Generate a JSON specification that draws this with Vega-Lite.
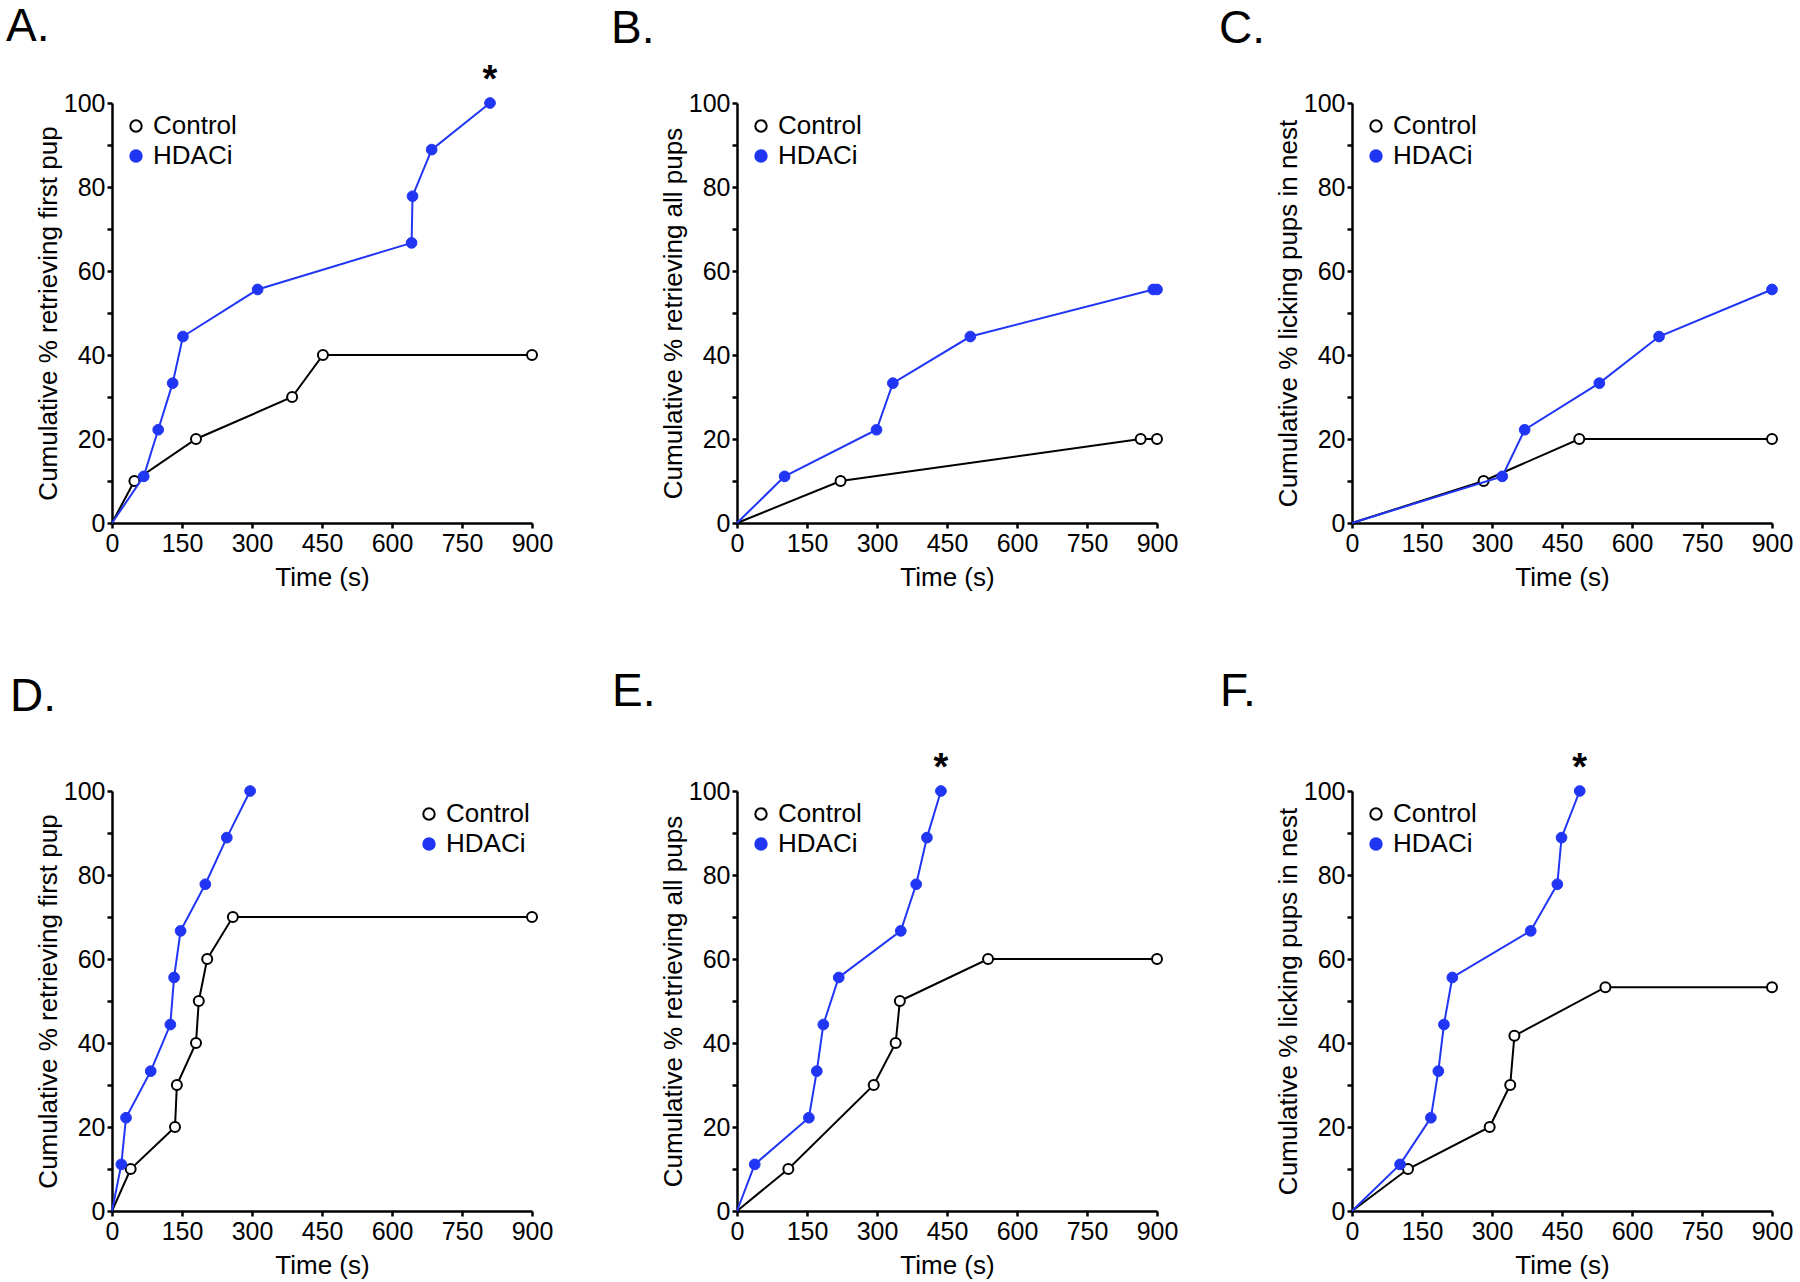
{
  "$schema": "https://vega.github.io/schema/vega-lite/v6.json",
  "background": "white",
  "padding": {"left": 6, "top": 4, "right": 5, "bottom": 5},
  "datasets": {
    "curves": [
      {"panel":"A","group":"Control","time":0,"pct":0},
      {"panel":"A","group":"Control","time":48,"pct":10},
      {"panel":"A","group":"Control","time":180,"pct":20},
      {"panel":"A","group":"Control","time":386,"pct":30},
      {"panel":"A","group":"Control","time":452,"pct":40},
      {"panel":"A","group":"Control","time":900,"pct":40},
      {"panel":"A","group":"HDACi","time":0,"pct":0},
      {"panel":"A","group":"HDACi","time":68,"pct":11.1},
      {"panel":"A","group":"HDACi","time":99,"pct":22.2},
      {"panel":"A","group":"HDACi","time":130,"pct":33.3},
      {"panel":"A","group":"HDACi","time":152,"pct":44.4},
      {"panel":"A","group":"HDACi","time":312,"pct":55.6},
      {"panel":"A","group":"HDACi","time":642,"pct":66.7},
      {"panel":"A","group":"HDACi","time":644,"pct":77.8},
      {"panel":"A","group":"HDACi","time":685,"pct":88.9},
      {"panel":"A","group":"HDACi","time":810,"pct":100},
      {"panel":"B","group":"Control","time":0,"pct":0},
      {"panel":"B","group":"Control","time":222,"pct":10},
      {"panel":"B","group":"Control","time":865,"pct":20},
      {"panel":"B","group":"Control","time":900,"pct":20},
      {"panel":"B","group":"HDACi","time":0,"pct":0},
      {"panel":"B","group":"HDACi","time":102,"pct":11.1},
      {"panel":"B","group":"HDACi","time":299,"pct":22.2},
      {"panel":"B","group":"HDACi","time":334,"pct":33.3},
      {"panel":"B","group":"HDACi","time":500,"pct":44.4},
      {"panel":"B","group":"HDACi","time":892,"pct":55.6},
      {"panel":"B","group":"HDACi","time":900,"pct":55.6},
      {"panel":"C","group":"Control","time":0,"pct":0},
      {"panel":"C","group":"Control","time":282,"pct":10},
      {"panel":"C","group":"Control","time":487,"pct":20},
      {"panel":"C","group":"Control","time":900,"pct":20},
      {"panel":"C","group":"HDACi","time":0,"pct":0},
      {"panel":"C","group":"HDACi","time":322,"pct":11.1},
      {"panel":"C","group":"HDACi","time":370,"pct":22.2},
      {"panel":"C","group":"HDACi","time":530,"pct":33.3},
      {"panel":"C","group":"HDACi","time":658,"pct":44.4},
      {"panel":"C","group":"HDACi","time":900,"pct":55.6},
      {"panel":"D","group":"Control","time":0,"pct":0},
      {"panel":"D","group":"Control","time":40,"pct":10},
      {"panel":"D","group":"Control","time":135,"pct":20},
      {"panel":"D","group":"Control","time":139,"pct":30},
      {"panel":"D","group":"Control","time":180,"pct":40},
      {"panel":"D","group":"Control","time":186,"pct":50},
      {"panel":"D","group":"Control","time":204,"pct":60},
      {"panel":"D","group":"Control","time":259,"pct":70},
      {"panel":"D","group":"Control","time":900,"pct":70},
      {"panel":"D","group":"HDACi","time":0,"pct":0},
      {"panel":"D","group":"HDACi","time":20,"pct":11.1},
      {"panel":"D","group":"HDACi","time":30,"pct":22.2},
      {"panel":"D","group":"HDACi","time":83,"pct":33.3},
      {"panel":"D","group":"HDACi","time":125,"pct":44.4},
      {"panel":"D","group":"HDACi","time":133,"pct":55.6},
      {"panel":"D","group":"HDACi","time":147,"pct":66.7},
      {"panel":"D","group":"HDACi","time":200,"pct":77.8},
      {"panel":"D","group":"HDACi","time":246,"pct":88.9},
      {"panel":"D","group":"HDACi","time":296,"pct":100},
      {"panel":"E","group":"Control","time":0,"pct":0},
      {"panel":"E","group":"Control","time":110,"pct":10},
      {"panel":"E","group":"Control","time":293,"pct":30},
      {"panel":"E","group":"Control","time":340,"pct":40},
      {"panel":"E","group":"Control","time":349,"pct":50},
      {"panel":"E","group":"Control","time":538,"pct":60},
      {"panel":"E","group":"Control","time":900,"pct":60},
      {"panel":"E","group":"HDACi","time":0,"pct":0},
      {"panel":"E","group":"HDACi","time":38,"pct":11.1},
      {"panel":"E","group":"HDACi","time":154,"pct":22.2},
      {"panel":"E","group":"HDACi","time":171,"pct":33.3},
      {"panel":"E","group":"HDACi","time":185,"pct":44.4},
      {"panel":"E","group":"HDACi","time":218,"pct":55.6},
      {"panel":"E","group":"HDACi","time":351,"pct":66.7},
      {"panel":"E","group":"HDACi","time":384,"pct":77.8},
      {"panel":"E","group":"HDACi","time":407,"pct":88.9},
      {"panel":"E","group":"HDACi","time":437,"pct":100},
      {"panel":"F","group":"Control","time":0,"pct":0},
      {"panel":"F","group":"Control","time":120,"pct":10},
      {"panel":"F","group":"Control","time":295,"pct":20},
      {"panel":"F","group":"Control","time":339,"pct":30},
      {"panel":"F","group":"Control","time":348,"pct":41.7},
      {"panel":"F","group":"Control","time":543,"pct":53.3},
      {"panel":"F","group":"Control","time":900,"pct":53.3},
      {"panel":"F","group":"HDACi","time":0,"pct":0},
      {"panel":"F","group":"HDACi","time":103,"pct":11.1},
      {"panel":"F","group":"HDACi","time":169,"pct":22.2},
      {"panel":"F","group":"HDACi","time":185,"pct":33.3},
      {"panel":"F","group":"HDACi","time":197,"pct":44.4},
      {"panel":"F","group":"HDACi","time":215,"pct":55.6},
      {"panel":"F","group":"HDACi","time":383,"pct":66.7},
      {"panel":"F","group":"HDACi","time":440,"pct":77.8},
      {"panel":"F","group":"HDACi","time":449,"pct":88.9},
      {"panel":"F","group":"HDACi","time":488,"pct":100}
    ],
    "stars": [
      {"panel":"A","time":810,"pct":100,"label":"*"},
      {"panel":"E","time":437,"pct":100,"label":"*"},
      {"panel":"F","time":488,"pct":100,"label":"*"}
    ]
  },
  "spacing": 688,
  "bounds": "flush",
  "resolve": {"legend": {"fill": "independent", "stroke": "independent"}},
  "vconcat": [
    {
      "spacing": 205,
      "bounds": "flush",
      "resolve": {"legend": {"fill": "independent", "stroke": "independent"}},
      "hconcat": [
        {
          "width": 420, "height": 420,
          "title": {"text": "A.", "dx": -106, "dy": -7},
          "encoding": {
            "x": {"field": "time", "type": "quantitative", "scale": {"domain": [0, 900], "nice": false}, "axis": {"title": "Time (s)", "values": [0,150,300,450,600,750,900]}},
            "y": {"field": "pct", "type": "quantitative", "scale": {"domain": [0, 100], "nice": false}, "axis": {"title": "Cumulative % retrieving first pup", "values": [0,10,20,30,40,50,60,70,80,90,100], "labelExpr": "datum.value % 20 === 0 ? datum.label : ''"}}
          },
          "layer": [
            {"data": {"name": "curves"}, "transform": [{"filter": "datum.panel === 'A' && datum.group === 'Control'"}], "mark": {"type": "line", "color": "black", "strokeWidth": 2}},
            {"data": {"name": "curves"}, "transform": [{"filter": "datum.panel === 'A' && datum.group === 'Control' && datum.time > 0"}], "mark": {"type": "point", "shape": "circle", "size": 100, "strokeWidth": 2, "opacity": 1, "filled": true},
             "encoding": {"fill": {"field": "group", "type": "nominal", "scale": {"domain": ["Control","HDACi"], "range": ["white","#2136f4"]}, "legend": {"orient": "none", "legendX": 11, "legendY": 10, "title": null}},
                          "stroke": {"field": "group", "type": "nominal", "scale": {"domain": ["Control","HDACi"], "range": ["black","#2136f4"]}, "legend": {"orient": "none", "legendX": 11, "legendY": 10, "title": null}}}},
            {"data": {"name": "curves"}, "transform": [{"filter": "datum.panel === 'A' && datum.group === 'HDACi'"}], "mark": {"type": "line", "color": "#2136f4", "strokeWidth": 2}},
            {"data": {"name": "curves"}, "transform": [{"filter": "datum.panel === 'A' && datum.group === 'HDACi' && datum.time > 0"}], "mark": {"type": "point", "shape": "circle", "size": 115, "strokeWidth": 1, "opacity": 1, "filled": true},
             "encoding": {"fill": {"field": "group", "type": "nominal", "scale": {"domain": ["Control","HDACi"], "range": ["white","#2136f4"]}, "legend": {"orient": "none", "legendX": 11, "legendY": 10, "title": null}},
                          "stroke": {"field": "group", "type": "nominal", "scale": {"domain": ["Control","HDACi"], "range": ["black","#2136f4"]}, "legend": {"orient": "none", "legendX": 11, "legendY": 10, "title": null}}}},
            {"data": {"name": "stars"}, "transform": [{"filter": "datum.panel === 'A'"}], "mark": {"type": "text", "font": "Liberation Sans", "fontSize": 38, "fontWeight": "bold", "baseline": "alphabetic", "dy": -11, "color": "black"}, "encoding": {"text": {"field": "label"}}}
          ]
        },
        {
          "spacing": 195,
          "bounds": "flush",
          "resolve": {"legend": {"fill": "independent", "stroke": "independent"}},
          "hconcat": [
            {
              "width": 420, "height": 420,
              "title": {"text": "B.", "dx": -126, "dy": -34},
              "encoding": {
                "x": {"field": "time", "type": "quantitative", "scale": {"domain": [0, 900], "nice": false}, "axis": {"title": "Time (s)", "values": [0,150,300,450,600,750,900]}},
                "y": {"field": "pct", "type": "quantitative", "scale": {"domain": [0, 100], "nice": false}, "axis": {"title": "Cumulative % retrieving all pups", "values": [0,10,20,30,40,50,60,70,80,90,100], "labelExpr": "datum.value % 20 === 0 ? datum.label : ''"}}
              },
              "layer": [
                {"data": {"name": "curves"}, "transform": [{"filter": "datum.panel === 'B' && datum.group === 'Control'"}], "mark": {"type": "line", "color": "black", "strokeWidth": 2}},
                {"data": {"name": "curves"}, "transform": [{"filter": "datum.panel === 'B' && datum.group === 'Control' && datum.time > 0"}], "mark": {"type": "point", "shape": "circle", "size": 100, "strokeWidth": 2, "opacity": 1, "filled": true},
                 "encoding": {"fill": {"field": "group", "type": "nominal", "scale": {"domain": ["Control","HDACi"], "range": ["white","#2136f4"]}, "legend": {"orient": "none", "legendX": 11, "legendY": 10, "title": null}},
                              "stroke": {"field": "group", "type": "nominal", "scale": {"domain": ["Control","HDACi"], "range": ["black","#2136f4"]}, "legend": {"orient": "none", "legendX": 11, "legendY": 10, "title": null}}}},
                {"data": {"name": "curves"}, "transform": [{"filter": "datum.panel === 'B' && datum.group === 'HDACi'"}], "mark": {"type": "line", "color": "#2136f4", "strokeWidth": 2}},
                {"data": {"name": "curves"}, "transform": [{"filter": "datum.panel === 'B' && datum.group === 'HDACi' && datum.time > 0"}], "mark": {"type": "point", "shape": "circle", "size": 115, "strokeWidth": 1, "opacity": 1, "filled": true},
                 "encoding": {"fill": {"field": "group", "type": "nominal", "scale": {"domain": ["Control","HDACi"], "range": ["white","#2136f4"]}, "legend": {"orient": "none", "legendX": 11, "legendY": 10, "title": null}},
                              "stroke": {"field": "group", "type": "nominal", "scale": {"domain": ["Control","HDACi"], "range": ["black","#2136f4"]}, "legend": {"orient": "none", "legendX": 11, "legendY": 10, "title": null}}}}
              ]
            },
            {
              "width": 420, "height": 420,
              "title": {"text": "C.", "dx": -133, "dy": -34},
              "encoding": {
                "x": {"field": "time", "type": "quantitative", "scale": {"domain": [0, 900], "nice": false}, "axis": {"title": "Time (s)", "values": [0,150,300,450,600,750,900]}},
                "y": {"field": "pct", "type": "quantitative", "scale": {"domain": [0, 100], "nice": false}, "axis": {"title": "Cumulative % licking pups in nest", "values": [0,10,20,30,40,50,60,70,80,90,100], "labelExpr": "datum.value % 20 === 0 ? datum.label : ''"}}
              },
              "layer": [
                {"data": {"name": "curves"}, "transform": [{"filter": "datum.panel === 'C' && datum.group === 'Control'"}], "mark": {"type": "line", "color": "black", "strokeWidth": 2}},
                {"data": {"name": "curves"}, "transform": [{"filter": "datum.panel === 'C' && datum.group === 'Control' && datum.time > 0"}], "mark": {"type": "point", "shape": "circle", "size": 100, "strokeWidth": 2, "opacity": 1, "filled": true},
                 "encoding": {"fill": {"field": "group", "type": "nominal", "scale": {"domain": ["Control","HDACi"], "range": ["white","#2136f4"]}, "legend": {"orient": "none", "legendX": 11, "legendY": 10, "title": null}},
                              "stroke": {"field": "group", "type": "nominal", "scale": {"domain": ["Control","HDACi"], "range": ["black","#2136f4"]}, "legend": {"orient": "none", "legendX": 11, "legendY": 10, "title": null}}}},
                {"data": {"name": "curves"}, "transform": [{"filter": "datum.panel === 'C' && datum.group === 'HDACi'"}], "mark": {"type": "line", "color": "#2136f4", "strokeWidth": 2}},
                {"data": {"name": "curves"}, "transform": [{"filter": "datum.panel === 'C' && datum.group === 'HDACi' && datum.time > 0"}], "mark": {"type": "point", "shape": "circle", "size": 115, "strokeWidth": 1, "opacity": 1, "filled": true},
                 "encoding": {"fill": {"field": "group", "type": "nominal", "scale": {"domain": ["Control","HDACi"], "range": ["white","#2136f4"]}, "legend": {"orient": "none", "legendX": 11, "legendY": 10, "title": null}},
                              "stroke": {"field": "group", "type": "nominal", "scale": {"domain": ["Control","HDACi"], "range": ["black","#2136f4"]}, "legend": {"orient": "none", "legendX": 11, "legendY": 10, "title": null}}}}
              ]
            }
          ]
        }
      ]
    },
    {
      "spacing": 205,
      "bounds": "flush",
      "resolve": {"legend": {"fill": "independent", "stroke": "independent"}},
      "hconcat": [
        {
          "width": 420, "height": 420,
          "title": {"text": "D.", "dx": -102, "dy": -54},
          "encoding": {
            "x": {"field": "time", "type": "quantitative", "scale": {"domain": [0, 900], "nice": false}, "axis": {"title": "Time (s)", "values": [0,150,300,450,600,750,900]}},
            "y": {"field": "pct", "type": "quantitative", "scale": {"domain": [0, 100], "nice": false}, "axis": {"title": "Cumulative % retrieving first pup", "values": [0,10,20,30,40,50,60,70,80,90,100], "labelExpr": "datum.value % 20 === 0 ? datum.label : ''"}}
          },
          "layer": [
            {"data": {"name": "curves"}, "transform": [{"filter": "datum.panel === 'D' && datum.group === 'Control'"}], "mark": {"type": "line", "color": "black", "strokeWidth": 2}},
            {"data": {"name": "curves"}, "transform": [{"filter": "datum.panel === 'D' && datum.group === 'Control' && datum.time > 0"}], "mark": {"type": "point", "shape": "circle", "size": 100, "strokeWidth": 2, "opacity": 1, "filled": true},
             "encoding": {"fill": {"field": "group", "type": "nominal", "scale": {"domain": ["Control","HDACi"], "range": ["white","#2136f4"]}, "legend": {"orient": "none", "legendX": 304, "legendY": 10, "title": null}},
                          "stroke": {"field": "group", "type": "nominal", "scale": {"domain": ["Control","HDACi"], "range": ["black","#2136f4"]}, "legend": {"orient": "none", "legendX": 304, "legendY": 10, "title": null}}}},
            {"data": {"name": "curves"}, "transform": [{"filter": "datum.panel === 'D' && datum.group === 'HDACi'"}], "mark": {"type": "line", "color": "#2136f4", "strokeWidth": 2}},
            {"data": {"name": "curves"}, "transform": [{"filter": "datum.panel === 'D' && datum.group === 'HDACi' && datum.time > 0"}], "mark": {"type": "point", "shape": "circle", "size": 115, "strokeWidth": 1, "opacity": 1, "filled": true},
             "encoding": {"fill": {"field": "group", "type": "nominal", "scale": {"domain": ["Control","HDACi"], "range": ["white","#2136f4"]}, "legend": {"orient": "none", "legendX": 304, "legendY": 10, "title": null}},
                          "stroke": {"field": "group", "type": "nominal", "scale": {"domain": ["Control","HDACi"], "range": ["black","#2136f4"]}, "legend": {"orient": "none", "legendX": 304, "legendY": 10, "title": null}}}}
          ]
        },
        {
          "spacing": 195,
          "bounds": "flush",
          "resolve": {"legend": {"fill": "independent", "stroke": "independent"}},
          "hconcat": [
            {
              "width": 420, "height": 420,
              "title": {"text": "E.", "dx": -125, "dy": -30},
              "encoding": {
                "x": {"field": "time", "type": "quantitative", "scale": {"domain": [0, 900], "nice": false}, "axis": {"title": "Time (s)", "values": [0,150,300,450,600,750,900]}},
                "y": {"field": "pct", "type": "quantitative", "scale": {"domain": [0, 100], "nice": false}, "axis": {"title": "Cumulative % retrieving all pups", "values": [0,10,20,30,40,50,60,70,80,90,100], "labelExpr": "datum.value % 20 === 0 ? datum.label : ''"}}
              },
              "layer": [
                {"data": {"name": "curves"}, "transform": [{"filter": "datum.panel === 'E' && datum.group === 'Control'"}], "mark": {"type": "line", "color": "black", "strokeWidth": 2}},
                {"data": {"name": "curves"}, "transform": [{"filter": "datum.panel === 'E' && datum.group === 'Control' && datum.time > 0"}], "mark": {"type": "point", "shape": "circle", "size": 100, "strokeWidth": 2, "opacity": 1, "filled": true},
                 "encoding": {"fill": {"field": "group", "type": "nominal", "scale": {"domain": ["Control","HDACi"], "range": ["white","#2136f4"]}, "legend": {"orient": "none", "legendX": 11, "legendY": 10, "title": null}},
                              "stroke": {"field": "group", "type": "nominal", "scale": {"domain": ["Control","HDACi"], "range": ["black","#2136f4"]}, "legend": {"orient": "none", "legendX": 11, "legendY": 10, "title": null}}}},
                {"data": {"name": "curves"}, "transform": [{"filter": "datum.panel === 'E' && datum.group === 'HDACi'"}], "mark": {"type": "line", "color": "#2136f4", "strokeWidth": 2}},
                {"data": {"name": "curves"}, "transform": [{"filter": "datum.panel === 'E' && datum.group === 'HDACi' && datum.time > 0"}], "mark": {"type": "point", "shape": "circle", "size": 115, "strokeWidth": 1, "opacity": 1, "filled": true},
                 "encoding": {"fill": {"field": "group", "type": "nominal", "scale": {"domain": ["Control","HDACi"], "range": ["white","#2136f4"]}, "legend": {"orient": "none", "legendX": 11, "legendY": 10, "title": null}},
                              "stroke": {"field": "group", "type": "nominal", "scale": {"domain": ["Control","HDACi"], "range": ["black","#2136f4"]}, "legend": {"orient": "none", "legendX": 11, "legendY": 10, "title": null}}}},
                {"data": {"name": "stars"}, "transform": [{"filter": "datum.panel === 'E'"}], "mark": {"type": "text", "font": "Liberation Sans", "fontSize": 38, "fontWeight": "bold", "baseline": "alphabetic", "dy": -11, "color": "black"}, "encoding": {"text": {"field": "label"}}}
              ]
            },
            {
              "width": 420, "height": 420,
              "title": {"text": "F.", "dx": -132, "dy": -30},
              "encoding": {
                "x": {"field": "time", "type": "quantitative", "scale": {"domain": [0, 900], "nice": false}, "axis": {"title": "Time (s)", "values": [0,150,300,450,600,750,900]}},
                "y": {"field": "pct", "type": "quantitative", "scale": {"domain": [0, 100], "nice": false}, "axis": {"title": "Cumulative % licking pups in nest", "values": [0,10,20,30,40,50,60,70,80,90,100], "labelExpr": "datum.value % 20 === 0 ? datum.label : ''"}}
              },
              "layer": [
                {"data": {"name": "curves"}, "transform": [{"filter": "datum.panel === 'F' && datum.group === 'Control'"}], "mark": {"type": "line", "color": "black", "strokeWidth": 2}},
                {"data": {"name": "curves"}, "transform": [{"filter": "datum.panel === 'F' && datum.group === 'Control' && datum.time > 0"}], "mark": {"type": "point", "shape": "circle", "size": 100, "strokeWidth": 2, "opacity": 1, "filled": true},
                 "encoding": {"fill": {"field": "group", "type": "nominal", "scale": {"domain": ["Control","HDACi"], "range": ["white","#2136f4"]}, "legend": {"orient": "none", "legendX": 11, "legendY": 10, "title": null}},
                              "stroke": {"field": "group", "type": "nominal", "scale": {"domain": ["Control","HDACi"], "range": ["black","#2136f4"]}, "legend": {"orient": "none", "legendX": 11, "legendY": 10, "title": null}}}},
                {"data": {"name": "curves"}, "transform": [{"filter": "datum.panel === 'F' && datum.group === 'HDACi'"}], "mark": {"type": "line", "color": "#2136f4", "strokeWidth": 2}},
                {"data": {"name": "curves"}, "transform": [{"filter": "datum.panel === 'F' && datum.group === 'HDACi' && datum.time > 0"}], "mark": {"type": "point", "shape": "circle", "size": 115, "strokeWidth": 1, "opacity": 1, "filled": true},
                 "encoding": {"fill": {"field": "group", "type": "nominal", "scale": {"domain": ["Control","HDACi"], "range": ["white","#2136f4"]}, "legend": {"orient": "none", "legendX": 11, "legendY": 10, "title": null}},
                              "stroke": {"field": "group", "type": "nominal", "scale": {"domain": ["Control","HDACi"], "range": ["black","#2136f4"]}, "legend": {"orient": "none", "legendX": 11, "legendY": 10, "title": null}}}},
                {"data": {"name": "stars"}, "transform": [{"filter": "datum.panel === 'F'"}], "mark": {"type": "text", "font": "Liberation Sans", "fontSize": 38, "fontWeight": "bold", "baseline": "alphabetic", "dy": -11, "color": "black"}, "encoding": {"text": {"field": "label"}}}
              ]
            }
          ]
        }
      ]
    }
  ],
  "config": {
    "font": "Liberation Sans",
    "view": {"stroke": null},
    "title": {"font": "Liberation Sans", "fontSize": 46, "fontWeight": "normal", "anchor": "start", "frame": "group", "baseline": "alphabetic", "offset": 0, "color": "black"},
    "axis": {"grid": false, "domainColor": "black", "domainWidth": 2.5, "tickColor": "black", "tickWidth": 2.5, "tickSize": 5, "labelFont": "Liberation Sans", "labelFontSize": 25, "labelColor": "black", "labelFlush": false, "labelOverlap": false, "titleFont": "Liberation Sans", "titleFontSize": 26, "titleFontWeight": "normal", "titleColor": "black"},
    "axisX": {"labelPadding": 3, "titlePadding": 8},
    "axisY": {"labelPadding": 2, "titlePadding": 2},
    "legend": {"symbolType": "circle", "symbolSize": 130, "symbolStrokeWidth": 2, "labelFont": "Liberation Sans", "labelFontSize": 26, "labelColor": "black", "labelOffset": 4, "padding": 0, "rowPadding": 4}
  }
}
